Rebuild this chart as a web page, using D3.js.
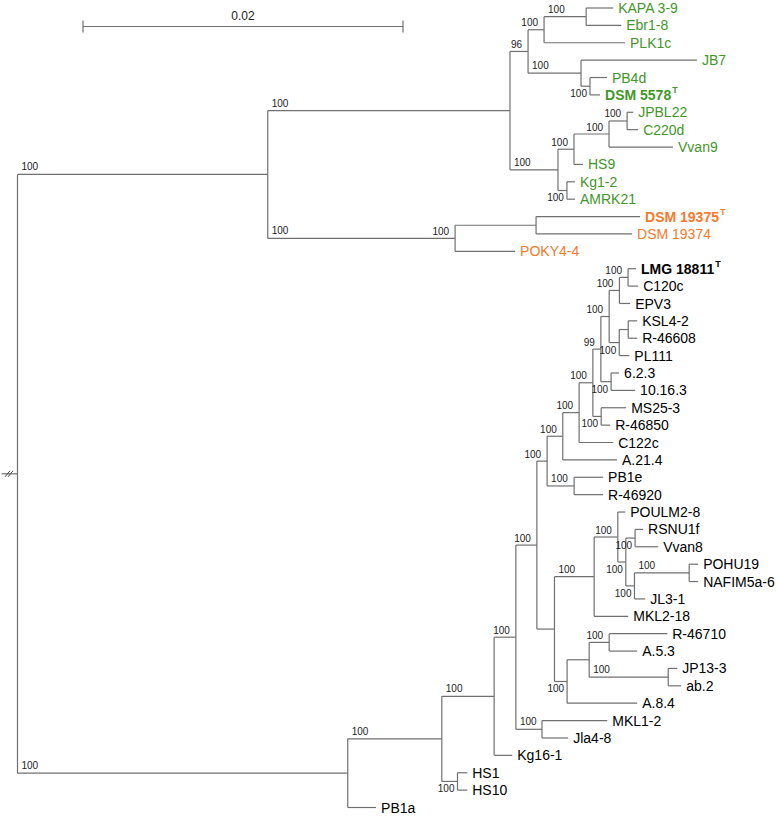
<!DOCTYPE html>
<html><head><meta charset="utf-8">
<script src="https://cdn.jsdelivr.net/npm/d3@7"></script>
<style>body{margin:0;background:#fff}</style>
</head><body>
<svg id="chart" width="777" height="816"></svg>
<script>
// ---- DATA ----
const leafNames = ["KAPA 3-9","Ebr1-8","PLK1c","JB7","PB4d","DSM 5578","JPBL22","C220d","Vvan9","HS9","Kg1-2","AMRK21",
  "DSM 19375","DSM 19374","POKY4-4",
  "LMG 18811","C120c","EPV3","KSL4-2","R-46608","PL111","6.2.3","10.16.3","MS25-3","R-46850","C122c","A.21.4",
  "PB1e","R-46920","POULM2-8","RSNU1f","Vvan8","POHU19","NAFIM5a-6","JL3-1","MKL2-18","R-46710","A.5.3",
  "JP13-3","ab.2","A.8.4","MKL1-2","Jla4-8","Kg16-1","HS1","HS10","PB1a"];
const leafParents = ["G3","G3","G2","G4","G5","G5","Gx","Gx","Gy","Gz","Gw","Gw",
  "O1","O1","O0",
  "K1","K1","K2","K3","K3","K4","K6","K6","K8","K8","K10","K11",
  "K12","K12","K18","K14","K14","K15","K15","K16","K19","K21","K21",
  "K22","K22","K24","K27","K27","K28","K30","K30","B"];
const leafLengths = [0.00169,0.00219,0.00506,0.00725,0.00106,0.00063,0.00038,0.00069,0.00400,0.00056,0.00050,0.00050,
  0.00650,0.00600,0.00375,
  0.00050,0.00063,0.00067,0.00056,0.00056,0.00063,0.00050,0.00150,0.00156,0.00056,0.00213,0.00339,
  0.00181,0.00181,0.00046,0.00050,0.00144,0.00056,0.00056,0.00067,0.00213,0.00363,0.00175,
  0.00056,0.00081,0.00438,0.00408,0.00164,0.00113,0.00061,0.00061,0.00177];

const nodeIds = ["T","B","G0","G1","G2","G3","G4","G5","G6","Gz","Gy","Gx","Gw","O0","O1",
  "K29","K28","K30","K26","K27","K25","K13","K20","K11","K12","K10","K9","K7","K8","K5","K6","K2","K4","K1","K3",
  "K19","K24","K18","K17","K14","K16","K15","K23","K21","K22"];
const nodeParents = ["root","root","T","G0","G1","G2","G1","G4","G0","G6","Gz","Gy","G6","T","O0",
  "B","K29","K29","K28","K26","K26","K25","K25","K13","K13","K11","K10","K9","K9","K7","K7","K5","K5","K2","K4",
  "K20","K20","K19","K18","K17","K17","K16","K24","K23","K23"];
const nodeLengths = [0.01564,0.02064,0.01514,0.00113,0.00100,0.00263,0.00331,0.00056,0.00300,0.00100,0.00219,0.00113,0.00056,0.01171,0.00506,
  0.00588,0.00327,0.00098,0.00136,0.00163,0.00131,0.00064,0.00110,0.00098,0.00169,0.00102,0.00086,0.00050,0.00052,0.00052,0.00064,0.00064,0.00063,0.00054,0.00056,
  0.00248,0.00079,0.00148,0.00050,0.00058,0.00054,0.00342,0.00138,0.00125,0.00494];

const supportNodes = ["T","B","G0","G1","G2","G3","G4","G5","G6","Gz","Gy","Gx","Gw","O0","O0",
  "K1","K2","K4","K5","K6","K7","K8","K9","K10","K11","K12","K13","K14","K15","K16","K17","K18","K19",
  "K21","K22","K24","K25","K26","K27","K28","K29","K30"];
const supportValues = ["100","100","100","96","100","100","100","100","100","100","100","100","100","100","100",
  "100","100","100","100","100","99","100","100","100","100","100","100","100","100","100","100","100","100",
  "100","100","100","100","100","100","100","100","100"];
const supportPlacement = ["s","s","s","l","l","s","s","b","s","l","l","l","b","s","l",
  "l","l","b","l","b","l","b","l","l","l","s","l","b","s","b","b","l","s",
  "l","s","b","l","l","s","s","s","b"];

const greenClade = leafNames.slice(0, 12);
const orangeClade = ["DSM 19375","DSM 19374","POKY4-4"];
const typeStrains = ["DSM 5578","DSM 19375","LMG 18811"];
const scaleBarValue = 0.02;
const scaleBarLabel = "0.02";

// ---- BUILD ----
const svg = d3.select("#chart");
const LINE = "#707070";
const GREEN = "#44962a", ORANGE = "#f47a2e", BLACK = "#000";
const FONT = "'Liberation Sans', Arial, sans-serif";

const rows = [{id:"root", parent:null, length:0}];
nodeIds.forEach((id,i)=>rows.push({id, parent:nodeParents[i], length:nodeLengths[i]}));
leafNames.forEach((id,i)=>rows.push({id, parent:leafParents[i], length:leafLengths[i], leaf:true}));
const root = d3.stratify().id(d=>d.id).parentId(d=>d.parent)(rows);

const xScale = d3.scaleLinear().domain([0, scaleBarValue]).range([17.5, 337.5]);
const yScale = d3.scaleLinear().domain([0, leafNames.length-1]).range([8, 807.5]);

root.eachBefore(n => { n.dist = n.parent ? n.parent.dist + n.data.length : 0; n.px = xScale(n.dist); });
root.eachAfter(n => {
  if (n.children) {
    const ys = n.children.map(c=>c.py);
    n.py = (d3.min(ys) + d3.max(ys)) / 2;
  } else {
    n.py = yScale(leafNames.indexOf(n.id));
  }
});
const byId = new Map(root.descendants().map(n=>[n.id,n]));

const g = svg.append("g");
// horizontal branches
g.selectAll("line.h").data(root.descendants().filter(n=>n.parent)).join("line")
  .attr("class","h")
  .attr("x1", d=>d.parent.px).attr("x2", d=>d.px)
  .attr("y1", d=>d.py).attr("y2", d=>d.py)
  .attr("stroke", LINE).attr("stroke-width", 1.2);
// vertical connectors
g.selectAll("line.v").data(root.descendants().filter(n=>n.children)).join("line")
  .attr("class","v")
  .attr("x1", d=>d.px).attr("x2", d=>d.px)
  .attr("y1", d=>d3.min(d.children,c=>c.py)).attr("y2", d=>d3.max(d.children,c=>c.py))
  .attr("stroke", LINE).attr("stroke-width", 1.2);
// root stub with break mark
g.append("line").attr("x1", 1.5).attr("x2", root.px).attr("y1", root.py).attr("y2", root.py)
  .attr("stroke", LINE).attr("stroke-width", 1.2);
[7.5, 10.5].forEach(bx => g.append("line")
  .attr("x1", bx-2.5).attr("y1", root.py+3).attr("x2", bx+2.5).attr("y2", root.py-3)
  .attr("stroke", "#444").attr("stroke-width", 1));

// leaf labels
const leafG = g.selectAll("text.leaf").data(root.leaves()).join("text")
  .attr("class","leaf")
  .attr("x", d=>d.px + 5).attr("y", d=>d.py).attr("dy","0.36em")
  .attr("font-family", FONT).attr("font-size", 14)
  .attr("font-weight", d=>typeStrains.includes(d.id) ? "bold" : "normal")
  .attr("fill", d=>greenClade.includes(d.id) ? GREEN : orangeClade.includes(d.id) ? ORANGE : BLACK);
leafG.append("tspan").text(d=>d.id);
leafG.filter(d=>typeStrains.includes(d.id)).append("tspan")
  .attr("font-size", 9).attr("dy", "-0.75em").attr("dx", 1).text("T");

// support values
const sup = supportNodes.map((id,i)=>({node:byId.get(id), value:supportValues[i], mode:supportPlacement[i]}));
g.selectAll("text.sup").data(sup).join("text")
  .attr("class","sup")
  .attr("font-family", FONT).attr("font-size", 10).attr("fill", "#222")
  .attr("text-anchor", d=>d.mode==="s" ? "start" : "end")
  .attr("x", d=>d.mode==="s" ? d.node.parent.px + 4 : d.mode==="l" ? d.node.px - 6 : d.node.px - 3)
  .attr("y", d=>d.mode==="s" ? d.node.py - 4 : d.mode==="l" ? d.node.py - 3.5 : d.node.py + 11)
  .text(d=>d.value);

// scale bar
const barX0 = 83, barY = 26.5;
const barW = xScale(scaleBarValue) - xScale(0);
const sb = svg.append("g");
sb.append("line").attr("x1", barX0).attr("x2", barX0+barW).attr("y1", barY).attr("y2", barY)
  .attr("stroke", LINE).attr("stroke-width", 1.2);
[barX0, barX0+barW].forEach(x => sb.append("line").attr("x1", x).attr("x2", x)
  .attr("y1", barY-6).attr("y2", barY+6).attr("stroke", LINE).attr("stroke-width", 1.2));
sb.append("text").attr("x", barX0+barW/2).attr("y", 20).attr("text-anchor","middle")
  .attr("font-family", FONT).attr("font-size", 12).attr("fill","#222").text(scaleBarLabel);
</script>
</body></html>
